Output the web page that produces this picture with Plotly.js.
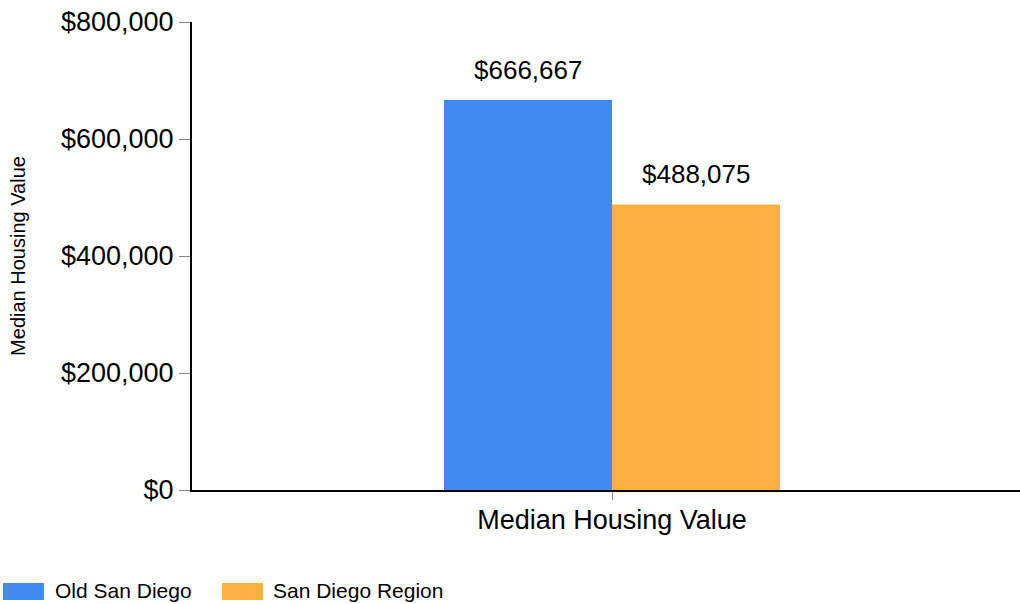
<!DOCTYPE html>
<html>
<head>
<meta charset="utf-8">
<script src="https://cdn.plot.ly/plotly-3.0.1.min.js"></script>
<style>
html, body { margin: 0; padding: 0; overflow: hidden; background: #fff; }
#chart { width: 1032px; height: 604px; }
</style>
</head>
<body>
<div id="chart"></div>
<script>
// ---- data ----
const categories = ["Median Housing Value"];
const seriesNames = ["Old San Diego", "San Diego Region"];
const oldSanDiego = [666667];
const sanDiegoRegion = [488075];
const yTickVals = [0, 200000, 400000, 600000, 800000];
const yTickText = ["$0", "$200,000", "$400,000", "$600,000", "$800,000"];

// ---- styles ----
const colors = ["#418bf0", "#fbb040"];
const font = "Arial, 'Liberation Sans', sans-serif";
const seriesValues = [oldSanDiego, sanDiegoRegion];

const fmt = v => "$" + v.toLocaleString("en-US");

const traces = seriesValues.map((vals, i) => ({
  type: "bar",
  name: seriesNames[i],
  x: categories,
  y: vals,
  marker: { color: colors[i], line: { width: 0 } },
  hoverinfo: "none"
}));

// value labels above the bars
const barHalfPx = 84; // half of each bar's pixel width (offset from category centre)
const annotations = [];
seriesValues.forEach((vals, i) => {
  vals.forEach((v, j) => {
    annotations.push({
      x: categories[j], y: v, xref: "x", yref: "y",
      text: fmt(v), showarrow: false,
      xanchor: "center", yanchor: "bottom",
      xshift: (i === 0 ? -1 : 1) * barHalfPx, yshift: 13,
      font: { family: font, size: 26, color: "#000" }
    });
  });
});

// custom legend (swatch + label) below the plot
const legendSwatchX = [[-0.225, -0.1762], [0.0357, 0.0845]];
const legendTextX = [-0.1655, 0.094];
const shapes = [];
seriesNames.forEach((name, i) => {
  shapes.push({
    type: "rect", xref: "paper", yref: "paper",
    x0: legendSwatchX[i][0], x1: legendSwatchX[i][1],
    y0: -0.235, y1: -0.1987,
    fillcolor: colors[i], line: { width: 0 }
  });
  annotations.push({
    xref: "paper", yref: "paper", x: legendTextX[i], y: -0.2158,
    xanchor: "left", yanchor: "middle", showarrow: false,
    text: name, font: { family: font, size: 21, color: "#000" }
  });
});

const layout = {
  width: 1032, height: 604,
  margin: { l: 192, r: 0, t: 22, b: 114, pad: 0 },
  paper_bgcolor: "#fff", plot_bgcolor: "#fff",
  font: { family: font, color: "#000" },
  barmode: "group", bargap: 0.6, bargroupgap: 0,
  showlegend: false,
  xaxis: {
    type: "category", range: [-0.5, 0.5],
    showline: true, linecolor: "#000", linewidth: 2,
    ticks: "outside", ticklen: 8, tickcolor: "#888", tickwidth: 1,
    ticklabelstandoff: -3,
    tickfont: { family: font, size: 27, color: "#000" },
    showgrid: false, zeroline: false, fixedrange: true
  },
  yaxis: {
    range: [0, 800000],
    tickvals: yTickVals, ticktext: yTickText,
    showline: true, linecolor: "#000", linewidth: 2,
    ticks: "outside", ticklen: 11, tickcolor: "#888", tickwidth: 1,
    ticklabelstandoff: 0,
    tickfont: { family: font, size: 27, color: "#000" },
    showgrid: false, zeroline: false, fixedrange: true,
    title: { text: "Median Housing Value", font: { family: font, size: 20, color: "#000" }, standoff: 30 }
  },
  annotations: annotations,
  shapes: shapes
};

Plotly.newPlot("chart", traces, layout, { displayModeBar: false, staticPlot: true });
</script>
</body>
</html>
